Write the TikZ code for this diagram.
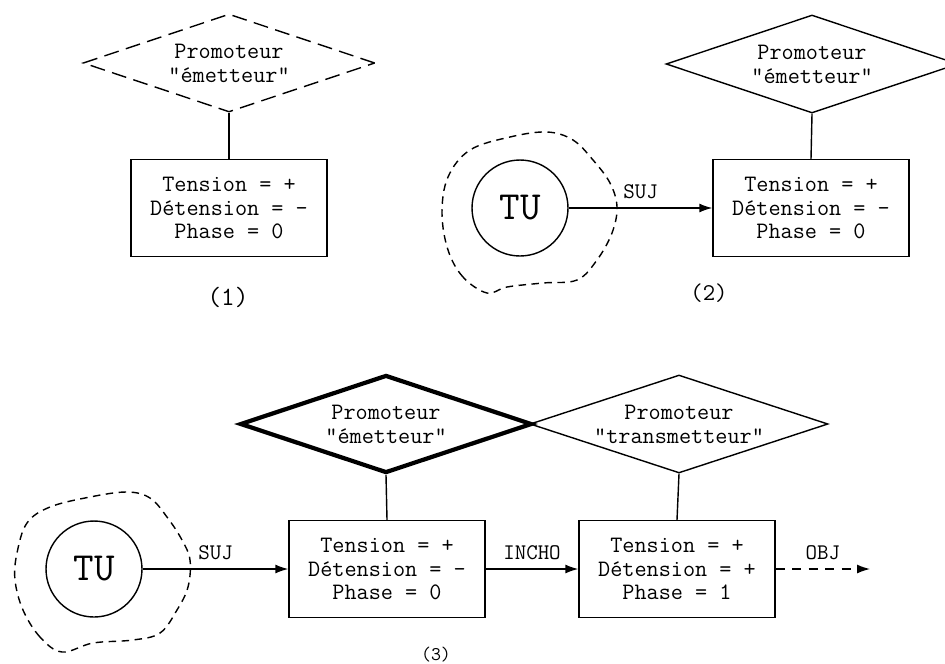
\documentclass[tikz,border=0pt]{standalone}
\usepackage{fontspec}
\usepackage{tikz}
\usetikzlibrary{arrows.meta,shapes.geometric}

\begin{document}
\begin{tikzpicture}[x=0.02cm, y=-0.02cm, line width=0.8pt, >={Latex[length=2.6mm,width=1.8mm]},
  promo/.style={diamond, draw, inner sep=0pt, minimum width=5.84cm, minimum height=1.96cm},
  promotxt/.style={align=center, font=\ttfamily\fontsize{13.4}{13.8}\selectfont},
  state/.style={draw, align=center, minimum width=3.92cm, minimum height=1.94cm, inner sep=0pt,
    font=\ttfamily\fontsize{13.4}{13.4}\selectfont},
  actor/.style={circle, draw, minimum size=1.92cm, inner sep=0pt, font=\ttfamily\fontsize{22.7}{26}\selectfont},
  scopeline/.style={dashed, dash pattern=on 1.5mm off 1.1mm},
  rel/.style={midway, above=4pt, inner sep=1pt, font=\ttfamily\fontsize{12.7}{14}\selectfont}]

\useasboundingbox (0,0) rectangle (945,663);

% ---------------- 1. EMETTEUR ALONE ----------------
\node[promo, dashed, dash pattern=on 3mm off 1.5mm,
  label={[promotxt]center:Promoteur\\"émetteur"}] (P1) at (229,63) {};
\node[state] (S1) at (229,208) {Tension = +\\Détension = -\\Phase = 0};
\draw (P1.south) -- (S1.north);
\node[font=\ttfamily\fontsize{15}{17}\selectfont] (L1) at (228,297) {(1)};

% ---------------- 2. EMETTEUR WITH SUBJECT ----------------
\draw[scopeline] plot[smooth cycle, tension=0.6] coordinates {
  (487,293) (463,277) (448,250) (442,213) (448,177) (470,150) (510,137) (547,132)
  (573,140) (593,160) (610,183) (617,207) (612,233) (597,260) (577,280) (543,283) (507,287)};
\node[actor] (TU2) at (520,208) {TU};
\node[promo, label={[promotxt]center:Promoteur\\"émetteur"}] (P2) at (812,64) {};
\node[state] (S2) at (811,208) {Tension = +\\Détension = -\\Phase = 0};
\draw (P2.south) -- (S2.north);
\draw[->] (TU2.east) -- node[rel] {SUJ} (S2.west);
\node[font=\ttfamily\fontsize{13.7}{16}\selectfont] (L2) at (709,293) {(2)};

% ---------------- 3. EMETTEUR THEN TRANSMETTEUR ----------------
\draw[scopeline] plot[smooth cycle, tension=0.6] coordinates {
  (62,652) (40,637) (23,610) (15,580) (17,553) (27,523) (50,507) (90,497) (127,492)
  (150,498) (167,517) (182,540) (190,560) (188,587) (177,610) (160,633) (133,640) (93,643)};
\node[actor] (TU3) at (94,569) {TU};

% thick one is the active promoter
\node[promo, line width=2.4pt, label={[promotxt]center:Promoteur\\"émetteur"}] (P3) at (386,424) {};
\node[promo, minimum width=5.96cm, label={[promotxt]center:Promoteur\\"transmetteur"}] (P4) at (679,424) {};

\node[state] (S3) at (387,569) {Tension = +\\Détension = -\\Phase = 0};
\node[state] (S4) at (677,569) {Tension = +\\Détension = +\\Phase = 1};
\draw (P3.south) -- (S3.north);
\draw (P4.south) -- (S4.north);

\coordinate (Obj) at (870,569);
\draw[->] (TU3.east) -- node[rel] {SUJ} (S3.west);
\draw[->] (S3.east) -- node[rel] {INCHO} (S4.west);
\draw[->, dashed, dash pattern=on 1.8mm off 1.5mm] (S4.east) -- node[rel] {OBJ} (Obj);

\node[font=\ttfamily\fontsize{11}{13}\selectfont] (L3) at (436,655) {(3)};

\end{tikzpicture}
\end{document}
